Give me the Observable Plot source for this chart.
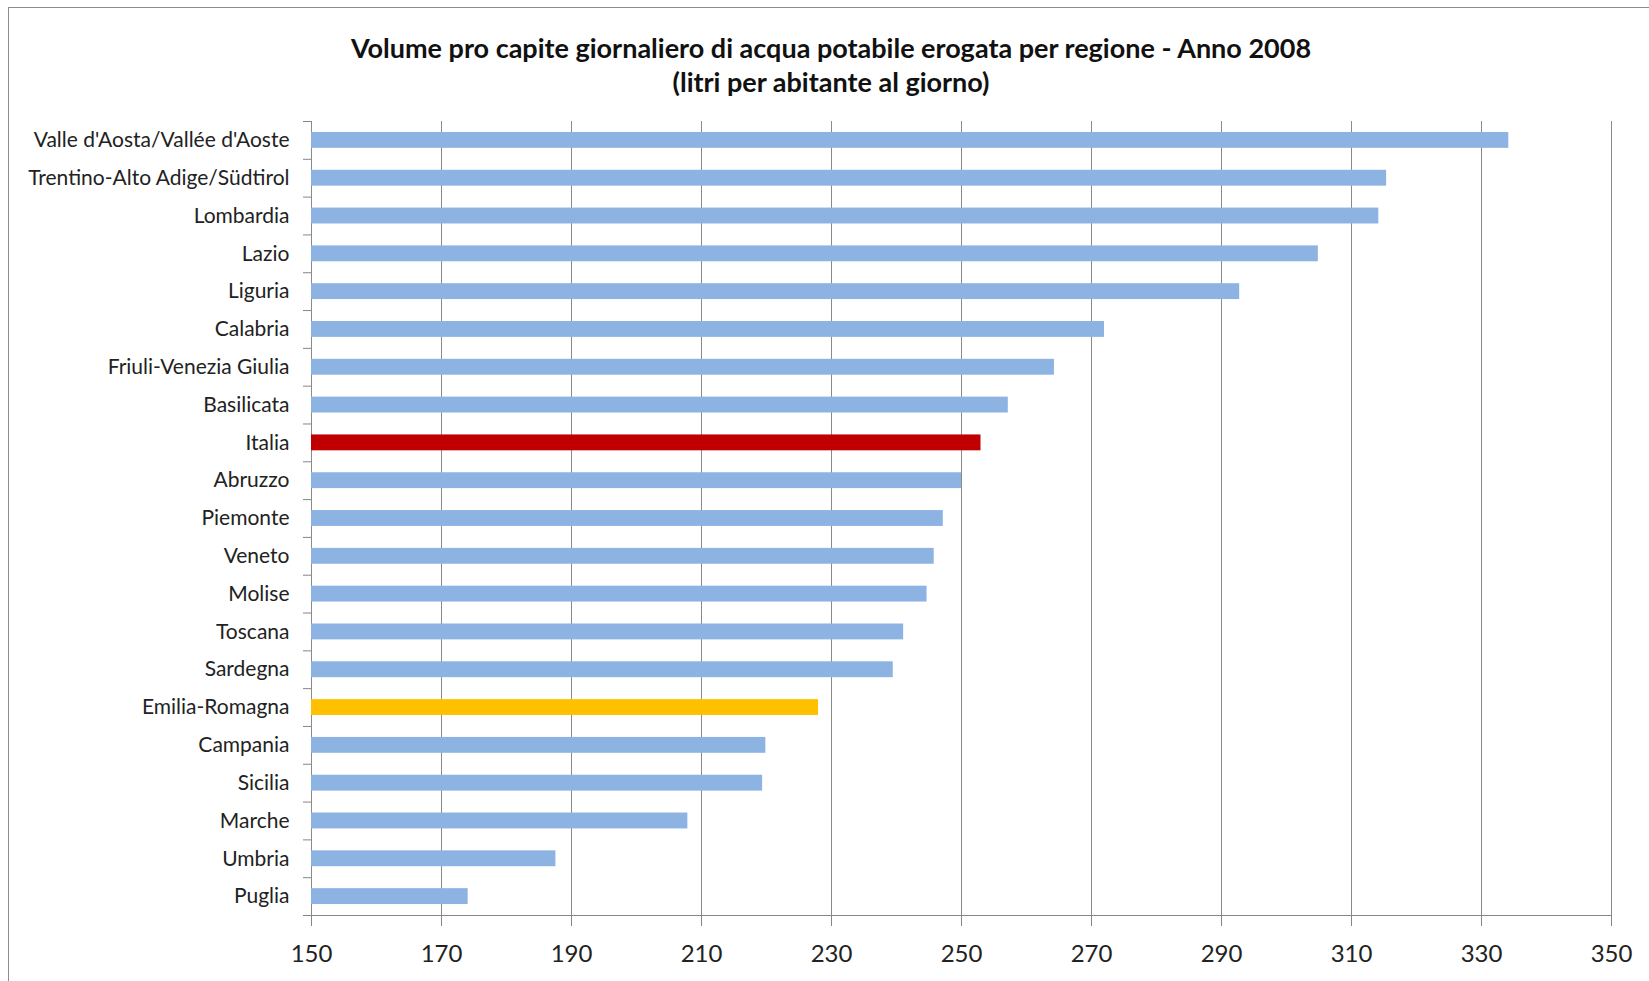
<!DOCTYPE html>
<html><head><meta charset="utf-8">
<script src="https://cdn.jsdelivr.net/npm/d3@7"></script>
<script src="https://cdn.jsdelivr.net/npm/@observablehq/plot@0.6"></script>
<style>
body{margin:0;background:#fff;width:1649px;height:981px;overflow:hidden;font-family:Lato,sans-serif;position:relative;}
#frame{position:absolute;left:8px;top:7px;width:1700px;height:1100px;border:1px solid #8c8c8c;}
#title{position:absolute;left:0;top:31px;width:1662px;text-align:center;font-weight:bold;font-size:27px;line-height:34px;color:#111;}
#chart{position:absolute;left:0;top:100px;}
</style></head><body>
<div id="frame"></div>
<div id="title">Volume pro capite giornaliero di acqua potabile erogata per regione - Anno 2008<br>(litri per abitante al giorno)</div>
<div id="chart"></div>
<script>
const regions = ["Valle d'Aosta/Vallée d'Aoste","Trentino-Alto Adige/Südtirol","Lombardia","Lazio","Liguria","Calabria","Friuli-Venezia Giulia","Basilicata","Italia","Abruzzo","Piemonte","Veneto","Molise","Toscana","Sardegna","Emilia-Romagna","Campania","Sicilia","Marche","Umbria","Puglia"];
const values = [334.2,315.4,314.2,304.9,292.8,272.0,264.3,257.2,253.0,250.0,247.2,245.8,244.7,241.1,239.5,228.0,219.9,219.4,207.9,187.6,174.1];
const xTicks = [150,170,190,210,230,250,270,290,310,330,350];
const highlight = {"Italia":"#C00000","Emilia-Romagna":"#FFC000"};
const baseColor = "#8DB3E2";

const data = regions.map((r,i)=>({region:r, value:values[i]}));
const H = 881, mT = 21, mB = 66;
const step = (H - mT - mB) / regions.length;
const chart = Plot.plot({
  width:1649, height:H, marginTop:mT, marginBottom:mB, marginLeft:311, marginRight:38,
  style:{fontFamily:"Lato, sans-serif", color:"#222", background:"transparent"},
  x:{domain:[150,350], label:null},
  y:{domain:regions, paddingInner:0.58, paddingOuter:0.29, round:false, label:null},
  color:{type:"identity"},
  marks:[
    Plot.ruleX(xTicks, {stroke:"#8a8a8a", strokeWidth:1, dy:0}),
    Plot.barX(data, {y:"region", x1:150, x2:"value", fill:d=>highlight[d.region] ?? baseColor}),
    Plot.ruleY(regions, {y:d=>d, x1:150, x2:150, insetLeft:-8, dy:-step/2, stroke:"#868686"}),
    Plot.ruleY([regions[regions.length-1]], {y:d=>d, x1:150, x2:150, insetLeft:-8, dy:step/2, stroke:"#868686"}),
    Plot.frame({anchor:"bottom", stroke:"#868686"}),
    Plot.axisX({ticks:xTicks, tickSize:11, tickPadding:18, fontSize:24, stroke:"#868686", tickFormat:d=>String(d), label:null}),
    Plot.axisY({tickSize:0, tickPadding:22, fontSize:21, label:null})
  ]
});
document.getElementById("chart").appendChild(chart);
</script>
</body></html>
